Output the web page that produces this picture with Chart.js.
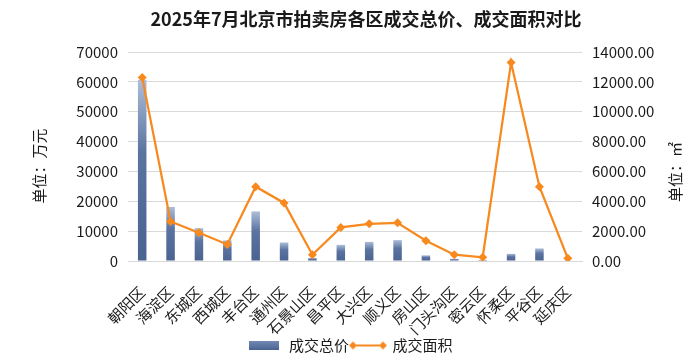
<!DOCTYPE html>
<html>
<head>
<meta charset="utf-8">
<script src="https://cdn.jsdelivr.net/npm/chart.js@4"></script>
<style>
  html, body { margin: 0; padding: 0; background: #fff; }
  #wrap { width: 700px; height: 363px; }
</style>
</head>
<body>
<div id="wrap"><canvas id="myChart"></canvas></div>
<script>
  // ---------- data ----------
  const TITLE = "2025年7月北京市拍卖房各区成交总价、成交面积对比";
  const DISTRICTS = ["朝阳区", "海淀区", "东城区", "西城区", "丰台区", "通州区", "石景山区", "昌平区",
    "大兴区", "顺义区", "房山区", "门头沟区", "密云区", "怀柔区", "平谷区", "延庆区"];
  // 成交总价 (万元)
  const TOTAL_PRICE = [60700, 18100, 11000, 6900, 16600, 6200, 1000, 5400,
    6400, 7000, 1900, 700, 300, 2400, 4200, 150];
  // 成交面积 (㎡)
  const TOTAL_AREA = [12300, 2650, 1890, 1110, 4980, 3890, 420, 2250,
    2490, 2560, 1360, 420, 250, 13290, 4980, 180];
  const LEFT_TITLE = "单位：万元";
  const RIGHT_TITLE = "单位：㎡";

  const FONT = '"Noto Sans CJK SC", "Noto Sans", sans-serif';
  const TEXT = "#1a1a1a";
  const ORANGE = "#f7891e";
  const BAR_DARK = "#4d6693";

  // per bar gradient, light at top
  function barFill(c) {
    const chart = c.chart;
    const y = chart.scales && chart.scales.y;
    if (!y || c.type !== "data") return BAR_DARK;
    const top = y.getPixelForValue(c.raw);
    const base = y.getPixelForValue(0);
    if (!isFinite(top) || !isFinite(base) || base - top < 1) return BAR_DARK;
    const g = chart.ctx.createLinearGradient(0, top, 0, base);
    g.addColorStop(0, "#adbdd9");
    g.addColorStop(0.4, "#5a73a0");
    g.addColorStop(1, "#4a6391");
    return g;
  }

  // legend markers
  const barMark = document.createElement("canvas");
  barMark.width = 30; barMark.height = 9;
  (() => {
    const x = barMark.getContext("2d");
    const g = x.createLinearGradient(0, 0, 0, 9);
    g.addColorStop(0, "#7189b3");
    g.addColorStop(1, "#4a6391");
    x.fillStyle = g;
    x.fillRect(0, 0, 30, 9);
  })();
  const lineMark = document.createElement("canvas");
  lineMark.width = 38; lineMark.height = 10;
  (() => {
    const x = lineMark.getContext("2d");
    x.strokeStyle = ORANGE; x.fillStyle = ORANGE; x.lineWidth = 2;
    x.beginPath(); x.moveTo(4, 5); x.lineTo(34, 5); x.stroke();
    [4, 34].forEach((cx) => {
      x.beginPath();
      x.moveTo(cx, 1); x.lineTo(cx + 4, 5); x.lineTo(cx, 9); x.lineTo(cx - 4, 5);
      x.closePath(); x.fill();
    });
  })();

  // title + axis titles drawn as canvas text
  const extraText = {
    id: "extraText",
    afterDraw(chart) {
      const ctx = chart.ctx;
      ctx.save();
      ctx.fillStyle = TEXT;
      ctx.textAlign = "center";
      ctx.textBaseline = "middle";
      ctx.font = "bold 18px " + FONT;
      ctx.fillText(TITLE, 366, 19);
      ctx.font = "15px " + FONT;
      ctx.save();
      ctx.translate(39, 166);
      ctx.rotate(-Math.PI / 2);
      ctx.fillText(LEFT_TITLE, 0, 0);
      ctx.restore();
      ctx.translate(675, 172);
      ctx.rotate(-Math.PI / 2);
      ctx.fillText(RIGHT_TITLE, 0, 0);
      ctx.restore();
    },
  };

  const data = {
    labels: DISTRICTS,
    datasets: [
      {
        type: "bar",
        label: "成交总价",
        data: TOTAL_PRICE,
        yAxisID: "y",
        backgroundColor: barFill,
        barPercentage: 0.3,
        categoryPercentage: 1,
        order: 2,
      },
      {
        type: "line",
        label: "成交面积",
        data: TOTAL_AREA,
        yAxisID: "y1",
        borderColor: ORANGE,
        backgroundColor: ORANGE,
        borderWidth: 2.25,
        pointStyle: "rectRot",
        pointRadius: 4.5,
        pointBorderWidth: 0,
        tension: 0,
        order: 1,
      },
    ],
  };

  const config = {
    data: data,
    plugins: [extraText],
    options: {
      responsive: true,
      maintainAspectRatio: false,
      animation: false,
      layout: { padding: { top: 52, bottom: 0 } },
      plugins: {
        title: { display: false },
        tooltip: { enabled: false },
        legend: {
          position: "bottom",
          labels: {
            usePointStyle: true,
            pointStyleWidth: 34,
            padding: 2,
            color: TEXT,
            font: { family: FONT, size: 15 },
            sort: (a, b) => a.datasetIndex - b.datasetIndex,
            generateLabels(chart) {
              const items = Chart.defaults.plugins.legend.labels.generateLabels(chart);
              items.forEach((it) => {
                it.pointStyle = it.datasetIndex === 0 ? barMark : lineMark;
              });
              return items;
            },
          },
        },
      },
      scales: {
        x: {
          grid: { display: false },
          border: { display: true, color: "#d9d9d9" },
          ticks: {
            color: TEXT,
            font: { family: FONT, size: 15 },
            minRotation: 45,
            maxRotation: 45,
            padding: 14,
            autoSkip: false,
          },
          afterFit(s) { s.height = 75; },
        },
        y: {
          position: "left",
          min: 0,
          max: 70000,
          ticks: {
            stepSize: 10000,
            color: TEXT,
            font: { family: FONT, size: 15 },
            padding: 10,
            callback: (v) => String(v),
          },
          grid: { color: "#d9d9d9", drawTicks: false },
          border: { display: false },
          afterFit(s) { s.width = 128; },
        },
        y1: {
          position: "right",
          min: 0,
          max: 14000,
          ticks: {
            stepSize: 2000,
            color: TEXT,
            font: { family: FONT, size: 15 },
            padding: 10,
            callback: (v) => Number(v).toFixed(2),
          },
          grid: { display: false, drawTicks: false },
          border: { display: false },
          afterFit(s) { s.width = 118; },
        },
      },
    },
  };

  const myChart = new Chart(document.getElementById("myChart"), config);
</script>
</body>
</html>
